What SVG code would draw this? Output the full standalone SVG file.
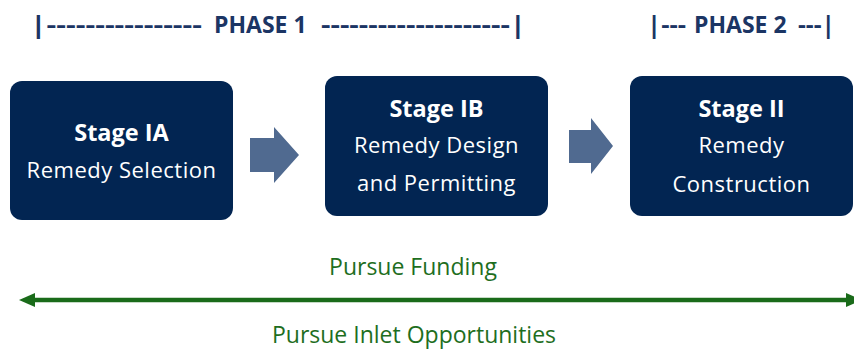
<svg xmlns="http://www.w3.org/2000/svg" width="854" height="349" viewBox="0 0 854 349">
<style>
.phase{font-family:"Open Sans","Noto Sans",sans-serif;font-weight:700;font-size:23px;fill:#1B3564}
.box{fill:#022552}
.t{font-family:"Open Sans","Noto Sans",sans-serif;font-size:22px;fill:#ffffff;text-anchor:middle}
.b{font-weight:700;font-size:23.5px}
.g{font-family:"Open Sans","Noto Sans",sans-serif;font-size:23px;fill:#1E6E1E;text-anchor:middle}
.flow{fill:#506A90}
</style>
<defs>
<marker id="ah" viewBox="0 0 16 16" refX="2" refY="8" markerWidth="16" markerHeight="16" markerUnits="userSpaceOnUse" orient="auto-start-reverse">
<path d="M0,1 L16,8 L0,15 Z" fill="#1A6B1A"/>
</marker>
</defs>
<g id="phase1">
<text class="phase" y="33"><tspan x="30" textLength="172" lengthAdjust="spacingAndGlyphs">|----------------</tspan><tspan x="214">PHASE 1</tspan><tspan x="321" textLength="205" lengthAdjust="spacingAndGlyphs">--------------------|</tspan></text>
</g>
<g id="phase2">
<text class="phase" y="33"><tspan x="647" textLength="39" lengthAdjust="spacingAndGlyphs">|---</tspan><tspan x="694">PHASE 2</tspan><tspan x="798" textLength="37" lengthAdjust="spacingAndGlyphs">---|</tspan></text>
</g>
<g id="stageIA">
<rect class="box" x="10" y="81" width="223" height="139" rx="12"/>
<text class="t b" x="121.5" y="141">Stage IA</text>
<text class="t" x="121.5" y="178" letter-spacing="0.5">Remedy Selection</text>
</g>
<g id="stageIB">
<rect class="box" x="325" y="76" width="223" height="140" rx="12"/>
<text class="t b" x="436.5" y="117">Stage IB</text>
<text class="t" x="436.5" y="153" letter-spacing="0.5">Remedy Design</text>
<text class="t" x="436.5" y="191" letter-spacing="0.5">and Permitting</text>
</g>
<g id="stageII">
<rect class="box" x="630" y="76" width="223" height="140" rx="12"/>
<text class="t b" x="741.5" y="117">Stage II</text>
<text class="t" x="741.5" y="153" letter-spacing="0.5">Remedy</text>
<text class="t" x="741.5" y="192" letter-spacing="0.5">Construction</text>
</g>
<g id="connectors">
<path class="flow" d="M250,138 H274 V127 L299,155 L274,183 V172 H250 Z"/>
<path class="flow" d="M569,130 H591 V118 L613,146 L591,174 V163 H569 Z"/>
<line x1="33" y1="300" x2="848" y2="300" stroke="#1A6B1A" stroke-width="4.5" marker-start="url(#ah)" marker-end="url(#ah)"/>
</g>
<g id="labels">
<text class="g" x="413" y="275">Pursue Funding</text>
<text class="g" x="414" y="343">Pursue Inlet Opportunities</text>
</g>
</svg>
